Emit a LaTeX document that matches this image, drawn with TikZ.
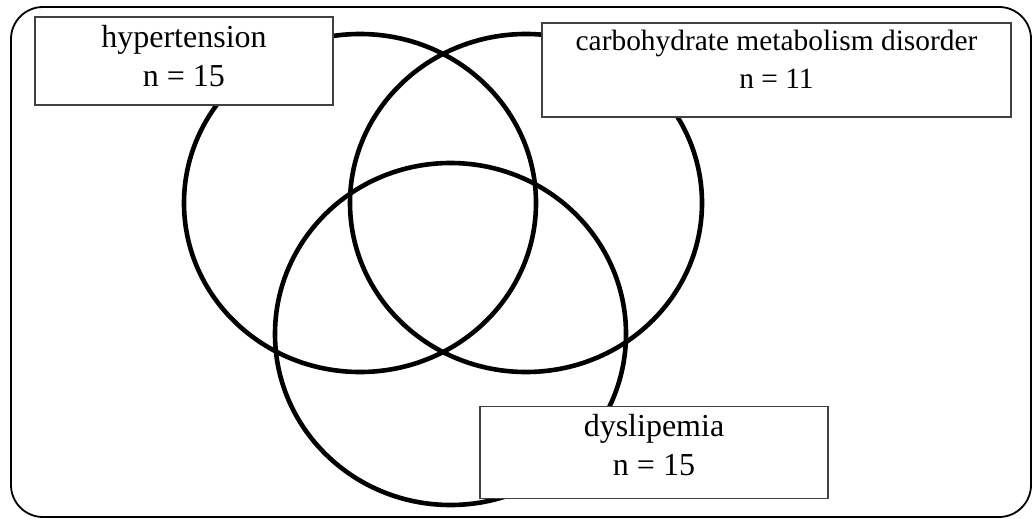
\documentclass[tikz,border=0pt]{standalone}
\usepackage{fontspec}
\setmainfont{Liberation Serif}
\usepackage{xcolor}
\usepackage{tikz}
\definecolor{boxgray}{HTML}{404040}

\begin{document}
\begin{tikzpicture}[
  x=0.5pt, y=-0.5pt,
  frame/.style={draw=black, line width=0.9pt, rounded corners=16pt},
  ring/.style={draw=black, line width=2.3pt},
  setbox/.style={draw=boxgray, fill=white, line width=0.6pt, inner sep=0pt,
                 align=center, font=\fontsize{16}{19.5}\selectfont}
]
  \useasboundingbox (0,0) rectangle (1033,519);
  \draw[frame] (11,7) rectangle (1031,517);
  \coordinate (chyp) at (360,203);
  \coordinate (ccarb) at (526,203);
  \coordinate (cdys) at (450.5,334);
  \draw[ring] (chyp) ellipse [x radius=176, y radius=169];
  \draw[ring] (ccarb) ellipse [x radius=176, y radius=169];
  \draw[ring] (cdys) ellipse [x radius=175.5, y radius=171];
  \node[setbox, minimum width=149pt, minimum height=44pt, text depth=5.5pt] (hyp) at (184,61) {hypertension\\n = 15};
  \node[setbox, minimum width=234.5pt, minimum height=47pt, text depth=10.5pt,
        font=\fontsize{14.7}{19}\selectfont] (carb) at (776.5,70) {carbohydrate metabolism disorder\\n = 11};
  \node[setbox, minimum width=174pt, minimum height=46pt, text depth=7.5pt] (dys) at (654,452.5) {dyslipemia\\n = 15};
\end{tikzpicture}
\end{document}
